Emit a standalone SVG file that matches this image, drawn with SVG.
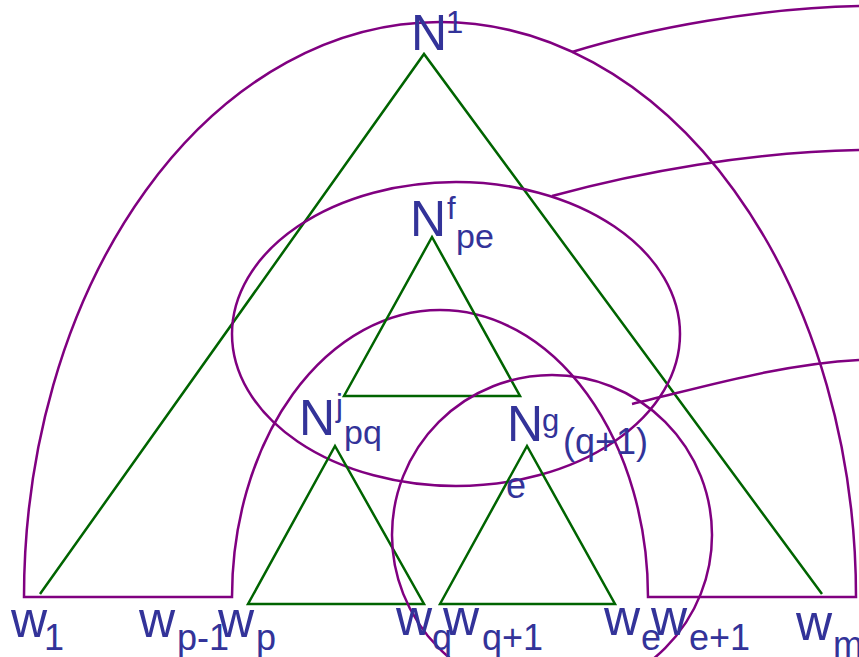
<svg xmlns="http://www.w3.org/2000/svg" width="859" height="657" viewBox="0 0 859 657">
<style>
.p{fill:none;stroke:#800080;stroke-width:2.5}
.g{fill:none;stroke:#006400;stroke-width:2.5}
text{font-family:"Liberation Sans",Arial,sans-serif;fill:#333399}
.m{font-size:50px}
.s{font-size:36px}
.n{font-size:34px}
.u{font-size:31px}
</style>
<rect width="859" height="657" fill="#ffffff"/>
<g id="node-N1">
<path class="p" d="M24,597 A416,575 0 0 1 856,597 L648,597 A208,287 0 0 0 232,597 Z"/>
<path class="g" d="M40,594 L424,54 L822,594"/>
<text class="m" x="411" y="50">N</text><text class="u" x="446" y="33">1</text>
</g>
<g id="node-Nf">
<ellipse class="p" cx="456" cy="334" rx="224" ry="152"/>
<path class="g" d="M344,396 L432,237 L520,396 Z"/>
<text class="m" x="410" y="236">N</text><text class="u" x="447" y="219">f</text><text class="n" x="456" y="248">pe</text>
</g>
<g id="node-Nj">
<path class="g" d="M248,604 L335,446 L424,604 Z"/>
<text class="m" x="299" y="435">N</text><text class="u" x="336" y="416">j</text><text class="n" x="344" y="444">pq</text>
</g>
<g id="node-Ng">
<circle class="p" cx="552" cy="535" r="160"/>
<path class="g" d="M440,604 L527,446 L615,604 Z"/>
<text class="m" x="507" y="441">N</text><text class="u" x="542" y="431">g</text><text class="s" x="563" y="454">(q+1)</text>
<text class="s" x="506" y="498">e</text>
</g>
<g id="words">
<text class="m" x="11" y="637">w</text><text class="s" x="44" y="650">1</text>
<text class="m" x="139" y="637">w</text><text class="s" x="177" y="650">p-1</text>
<text class="m" x="218" y="637">w</text><text class="s" x="256" y="650">p</text>
<text class="m" x="396" y="635">w</text><text class="s" x="432" y="650">q</text>
<text class="m" x="443" y="635">w</text><text class="s" x="482" y="650">q+1</text>
<text class="m" x="604" y="635">w</text><text class="s" x="641" y="650">e</text>
<text class="m" x="651" y="635">w</text><text class="s" x="689" y="650">e+1</text>
<text class="m" x="796" y="640">w</text><text class="s" x="833" y="657">m</text>
</g>
<g id="connectors">
<path class="p" d="M572,52 C650,28 760,8 859,6"/>
<path class="p" d="M552,196 C640,172 750,152 859,150"/>
<path class="p" d="M632,404 C700,388 780,364 859,360"/>
</g>
</svg>
